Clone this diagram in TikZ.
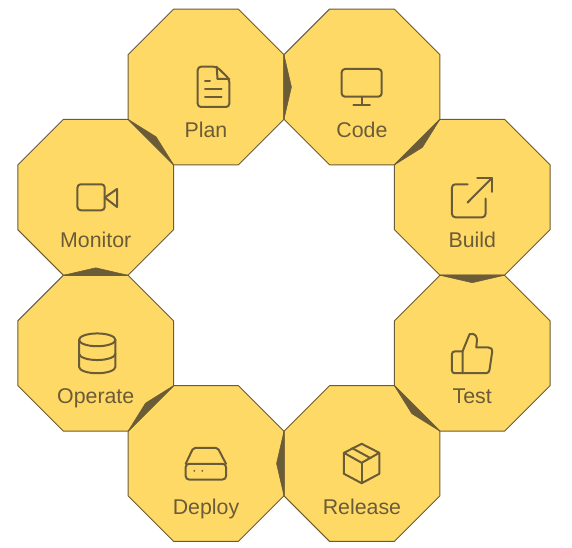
\documentclass[tikz,border=0pt]{standalone}
\usepackage{fontspec}
\setmainfont{Liberation Sans}
\usetikzlibrary{shapes.geometric, positioning, calc}
\definecolor{phasefill}{RGB}{255,217,102}
\definecolor{phasedark}{RGB}{107,92,56}

\begin{document}
\begin{tikzpicture}[
        x=0.75pt, y=-0.75pt,
        phase/.style={regular polygon, regular polygon sides=8, draw=phasedark, fill=phasefill, line width=0.75pt, minimum size=126.6pt, inner sep=0pt, outer sep=0pt},
        phaselabel/.style={anchor=base, yshift=-38pt, text=phasedark, font=\fontsize{16}{19}\selectfont},
        link/.style={fill=phasedark, draw=phasedark, line width=0.4pt, line join=round},
        glyph/.style={draw=phasedark, line width=1.5pt, line join=round, line cap=round},
        fileicon/.pic={
            \draw[glyph, rounded corners=2.5pt] (10.7,-20.3) -- (-8.3,-20.3) -- (-8.3,20) -- (23.3,20) -- (23.3,-8) -- cycle;
            \draw[glyph] (10.7,-20.3) -- (11.5,-8) -- (23.3,-8);
            \draw[glyph] (-1,-6.3) -- (4,-6.3);
            \draw[glyph] (-1,1.7) -- (15.7,1.7);
            \draw[glyph] (-1,9.7) -- (15.7,9.7);
        },
        screenicon/.pic={
            \draw[glyph, rounded corners=2.5pt] (-20.3,-18) rectangle (19.7,9.7);
            \draw[glyph] (-0.3,9.7) -- (-0.3,17.7);
            \draw[glyph] (-8.7,17.7) -- (8,17.7);
        },
        shareicon/.pic={
            \draw[glyph, rounded corners=2.5pt] (-4.7,-13) -- (-20.3,-13) -- (-20.3,20) -- (13.3,20) -- (13.3,1.3);
            \draw[glyph] (-4.7,5.3) -- (19.7,-19.3);
            \draw[glyph] (5,-19.3) -- (19.7,-19.3) -- (19.7,-5.3);
        },
        thumbicon/.pic={
            \draw[glyph, rounded corners=2pt] (-9.7,-1.8) -- (-20.3,-1.8) -- (-20.3,20) -- (-9.7,20);
            \draw[glyph] (-9.7,20) -- (-9.7,-1.8) -- (-2.7,-19) .. controls (3,-21) and (5,-16) .. (4.7,-12.5) -- (4,-5.8) -- (16,-5.8) .. controls (19,-5.8) and (20.3,-4) .. (20,-2) -- (17.3,16.5) .. controls (17,18.5) and (16,20) .. (14,20) -- cycle;
        },
        boxicon/.pic={
            \draw[glyph] (-0.3,-19.7) -- (17.3,-10.7) -- (17.3,10.3) -- (-0.3,19.7) -- (-18,10.3) -- (-18,-10.7) -- cycle;
            \draw[glyph] (-18,-10.7) -- (-0.3,-0.7) -- (17.3,-10.7);
            \draw[glyph] (-0.3,-0.7) -- (-0.3,19.7);
            \draw[glyph] (-9.7,-15.3) -- (8.7,-5.3);
        },
        driveicon/.pic={
            \draw[glyph, rounded corners=2.5pt] (-20.3,0.3) rectangle (20,16);
            \draw[glyph, rounded corners=1.5pt] (-20.3,0.3) -- (-12.7,-15.7) -- (11.7,-15.7) -- (20,0.3);
            \fill[phasedark] (-11.7,7.3) circle (1);
            \fill[phasedark] (-3.7,7.3) circle (1);
        },
        dbicon/.pic={
            \draw[glyph] (1.5,-13.4) circle [x radius=18.2, y radius=6.4];
            \draw[glyph] (-16.7,-13.4) -- (-16.7,13.6) arc [start angle=180, end angle=0, x radius=18.2, y radius=6.4] -- (19.7,-13.4);
            \draw[glyph] (-16.7,0.4) arc [start angle=180, end angle=0, x radius=18.2, y radius=6.4];
        },
        cameraicon/.pic={
            \draw[glyph, rounded corners=2.5pt] (-18.3,-13) rectangle (9,13);
            \draw[glyph] (9,0.3) -- (21.3,-8.3) -- (21.3,9.7) -- cycle;
        }
    ]
        \useasboundingbox (0,0) rectangle (572,548);

        \node[phase] (plan) at (206,87) {};
        \node[phase, right=0pt of plan] (code) {};
        \node[phase, anchor=corner 3] (build) at (code.corner 6) {};
        \node[phase, below=0pt of build] (test) {};
        \node[phase, anchor=corner 1] (release) at (test.corner 4) {};
        \node[phase, left=0pt of release] (deploy) {};
        \node[phase, anchor=corner 7] (operate) at (deploy.corner 2) {};
        \node[phase, above=0pt of operate] (monitor) {};

        \node[phaselabel] (planlabel) at (plan) {Plan};
        \node[phaselabel] (codelabel) at (code) {Code};
        \node[phaselabel] (buildlabel) at (build) {Build};
        \node[phaselabel] (testlabel) at (test) {Test};
        \node[phaselabel] (releaselabel) at (release) {Release};
        \node[phaselabel] (deploylabel) at (deploy) {Deploy};
        \node[phaselabel] (operatelabel) at (operate) {Operate};
        \node[phaselabel] (monitorlabel) at (monitor) {Monitor};

        \pic at (plan) {fileicon};
        \pic at (code) {screenicon};
        \pic at (build) {shareicon};
        \pic at (test) {thumbicon};
        \pic at (release) {boxicon};
        \pic at (deploy) {driveicon};
        \pic at (operate) {dbicon};
        \pic at (monitor) {cameraicon};

        \foreach \from/\to/\ca/\cb in {plan/code/8/7, code/build/7/6, build/test/6/5, test/release/5/4, release/deploy/4/3, deploy/operate/3/2, operate/monitor/2/1, monitor/plan/1/8}
            \draw[link] (\from.corner \ca) -- ($(\from.corner \ca)!.5!(\from.corner \cb)!5.6pt!(\to)$) -- (\from.corner \cb) -- cycle;
    \end{tikzpicture}
\end{document}
